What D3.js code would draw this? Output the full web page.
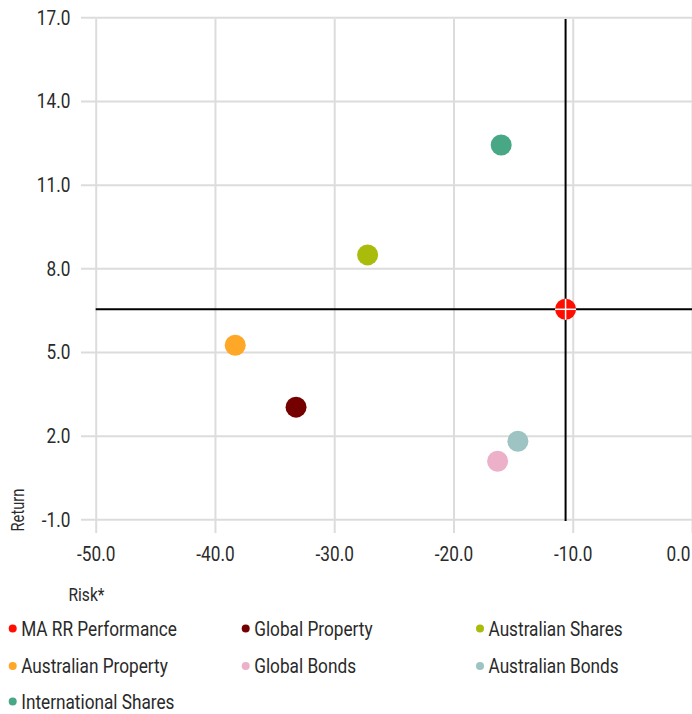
<!DOCTYPE html>
<html>
<head>
<meta charset="utf-8">
<script src="https://cdn.jsdelivr.net/npm/d3@7"></script>
<style>
  body { margin: 0; background: #fff; }
  svg text { font-family: Roboto, "Liberation Sans", sans-serif; font-weight: 400; fill: #2a2a2a; }
</style>
</head>
<body>
<div id="chart"></div>
<script>
// series: risk (x) and return (y)
const names = ['MA RR Performance', 'Global Property', 'Australian Shares',
               'Australian Property', 'Global Bonds', 'Australian Bonds', 'International Shares'];
const risk = [-10.6, -33.2, -27.2, -38.3, -16.3, -14.6, -16.0];
const ret = [6.53, 3.02, 8.48, 5.24, 1.08, 1.80, 12.42];
const colors = ['#ff0d00', '#750000', '#a9bc0b', '#ffa726', '#ecb0c9', '#9dc3c3', '#48a886'];

const xTicks = [-50, -40, -30, -20, -10, 0];
const yTicks = [-1, 2, 5, 8, 11, 14, 17];

const W = 692, H = 714;
const SX = 0.82; // no condensed face installed, so squeeze text a bit

const svg = d3.select('#chart').append('svg')
    .attr('width', W)
    .attr('height', H);

const x = d3.scaleLinear().domain([-50, 0]).range([95.7, 692]);
const y = d3.scaleLinear().domain([-1, 17]).range([519.3, 17.3]);

const fmt = d => d.toFixed(1);

// vertical grid (bottom axis with long ticks)
const gx = svg.append('g')
    .attr('transform', 'translate(0,533)')
    .call(d3.axisBottom(x).tickValues(xTicks).tickFormat(fmt)
        .tickSize(-514).tickSizeOuter(0).tickPadding(13));

// horizontal grid (left axis with long ticks)
const gy = svg.append('g')
    .attr('transform', 'translate(81,0)')
    .call(d3.axisLeft(y).tickValues(yTicks).tickFormat(fmt)
        .tickSize(-(W - 81)).tickSizeOuter(0).tickPadding(13));

[gx, gy].forEach(g => {
    g.select('.domain').remove();
    g.selectAll('.tick line').attr('stroke', '#dcdcdc').attr('stroke-width', 2);
    g.selectAll('.tick text')
        .style('font-size', '21px')
        .attr('fill', '#2a2a2a')
        .attr('transform', `scale(${SX},1)`);
});
// last x label sits against the right edge
gx.selectAll('.tick text').filter(d => d === 0)
    .attr('text-anchor', 'end').attr('x', -2 / SX);

// crosshair through the MA RR point
const cx = x(risk[0]), cy = y(ret[0]);
svg.append('line')
    .attr('x1', cx).attr('x2', cx)
    .attr('y1', 19).attr('y2', 521)
    .attr('stroke', '#000').attr('stroke-width', 2);
svg.append('line')
    .attr('x1', x(-50)).attr('x2', W)
    .attr('y1', cy).attr('y2', cy)
    .attr('stroke', '#000').attr('stroke-width', 2);

// points, drawn back to front so the red one sits on top
const idx = d3.range(names.length).reverse();
svg.selectAll('.pt')
    .data(idx)
    .enter().append('circle')
    .attr('class', 'pt')
    .attr('cx', i => x(risk[i]))
    .attr('cy', i => y(ret[i]))
    .attr('r', 10.5)
    .attr('fill', i => colors[i]);

// white cross on the red marker
const r = 10.5;
svg.append('line').attr('x1', cx - r).attr('x2', cx + r).attr('y1', cy).attr('y2', cy)
    .attr('stroke', '#fff').attr('stroke-width', 1.5);
svg.append('line').attr('x1', cx).attr('x2', cx).attr('y1', cy - r).attr('y2', cy + r)
    .attr('stroke', '#fff').attr('stroke-width', 1.5);

// axis titles
svg.append('text')
    .attr('transform', `translate(24,510) rotate(-90) scale(${SX},1)`)
    .attr('text-anchor', 'middle')
    .style('font-size', '18px')
    .text('Return');
svg.append('text')
    .attr('transform', `translate(86.5,601) scale(${SX},1)`)
    .attr('text-anchor', 'middle')
    .style('font-size', '19px')
    .text('Risk*');

// legend, three columns
const colX = [12.7, 245.7, 480];
const rowY = [628.5, 666, 701.5];
const leg = svg.selectAll('.leg')
    .data(d3.range(names.length))
    .enter().append('g')
    .attr('class', 'leg')
    .attr('transform', i => `translate(${colX[i % 3]},${rowY[Math.floor(i / 3)]})`);
leg.append('circle').attr('r', 4).attr('fill', i => colors[i]);
leg.append('text')
    .attr('transform', `translate(8.5,0) scale(${SX},1)`)
    .attr('dy', '0.35em')
    .style('font-size', '21px')
    .text(i => names[i]);
</script>
</body>
</html>
